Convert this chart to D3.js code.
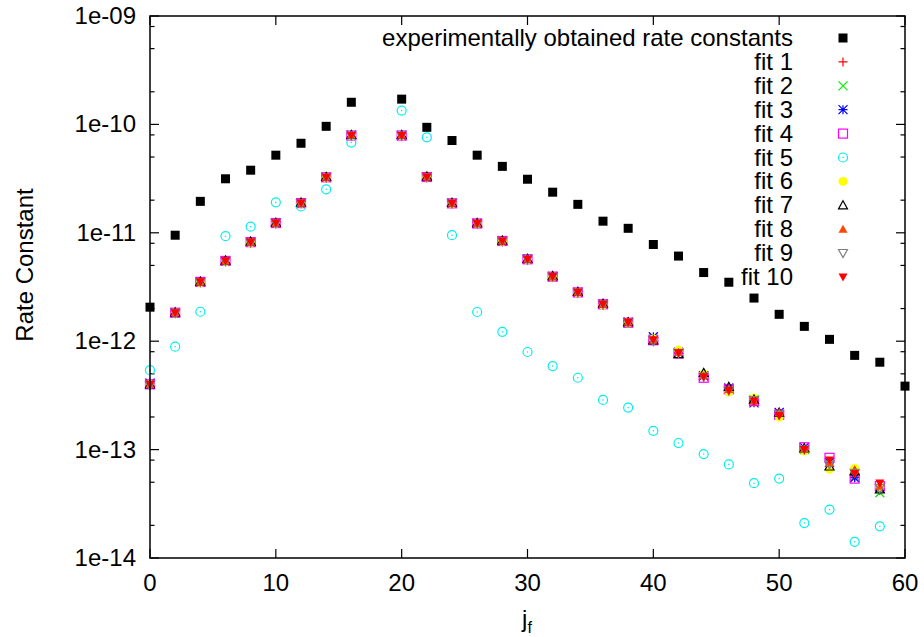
<!DOCTYPE html>
<html>
<head>
<meta charset="utf-8">
<script src="https://cdn.jsdelivr.net/npm/d3@7"></script>
<style>
  body { margin: 0; background: #fff; }
  svg text { font-family: "Liberation Sans", Arial, sans-serif; fill: #000; }
</style>
</head>
<body>
<div id="chart"></div>
<script>
// j_f values
const jExp = [0, 2, 4, 6, 8, 10, 12, 14, 16, 20, 22, 24, 26, 28, 30, 32, 34, 36, 38, 40, 42, 44, 46, 48, 50, 52, 54, 56, 58, 60];
const jFit = [0, 2, 4, 6, 8, 10, 12, 14, 16, 20, 22, 24, 26, 28, 30, 32, 34, 36, 38, 40, 42, 44, 46, 48, 50, 52, 54, 56, 58];

const expRates = [2.06e-12, 9.5e-12, 1.95e-11, 3.15e-11, 3.78e-11, 5.2e-11, 6.7e-11, 9.6e-11, 1.6e-10, 1.71e-10,
  9.4e-11, 7.1e-11, 5.2e-11, 4.1e-11, 3.12e-11, 2.37e-11, 1.83e-11, 1.28e-11, 1.1e-11, 7.8e-12,
  6.1e-12, 4.3e-12, 3.5e-12, 2.5e-12, 1.77e-12, 1.37e-12, 1.04e-12, 7.4e-13, 6.4e-13, 3.85e-13];

const fit1 = [4.0e-13, 1.83e-12, 3.5e-12, 5.5e-12, 8.2e-12, 1.23e-11, 1.88e-11, 3.25e-11, 7.9e-11, 7.9e-11,
  3.27e-11, 1.87e-11, 1.22e-11, 8.4e-12, 5.7e-12, 3.94e-12, 2.82e-12, 2.19e-12, 1.49e-12, 1.03e-12,
  7.7e-13, 4.7e-13, 3.5e-13, 2.8e-13, 2.1e-13, 1.02e-13, 7.4e-14, 5.6e-14, 4.2e-14];
const fit2 = [4.1e-13, 1.84e-12, 3.5e-12, 5.5e-12, 8.2e-12, 1.24e-11, 1.88e-11, 3.26e-11, 7.9e-11, 7.9e-11,
  3.27e-11, 1.87e-11, 1.22e-11, 8.4e-12, 5.7e-12, 3.95e-12, 2.83e-12, 2.2e-12, 1.5e-12, 1.05e-12,
  7.8e-13, 4.8e-13, 3.6e-13, 2.9e-13, 2.1e-13, 1.0e-13, 7.2e-14, 5.7e-14, 4.0e-14];
const fit3 = [4.1e-13, 1.83e-12, 3.55e-12, 5.5e-12, 8.2e-12, 1.23e-11, 1.89e-11, 3.25e-11, 7.95e-11, 7.9e-11,
  3.27e-11, 1.88e-11, 1.22e-11, 8.45e-12, 5.7e-12, 3.95e-12, 2.82e-12, 2.2e-12, 1.5e-12, 1.1e-12,
  7.9e-13, 4.8e-13, 3.7e-13, 2.7e-13, 2.2e-13, 1.05e-13, 7.6e-14, 5.5e-14, 4.4e-14];
const fit4 = [4.0e-13, 1.83e-12, 3.52e-12, 5.5e-12, 8.2e-12, 1.23e-11, 1.88e-11, 3.25e-11, 7.9e-11, 7.9e-11,
  3.27e-11, 1.87e-11, 1.22e-11, 8.4e-12, 5.7e-12, 3.94e-12, 2.82e-12, 2.19e-12, 1.48e-12, 1.02e-12,
  7.7e-13, 4.6e-13, 3.6e-13, 2.8e-13, 2.1e-13, 1.05e-13, 8.4e-14, 5.4e-14, 4.6e-14];
const fit5 = [5.4e-13, 8.9e-13, 1.87e-12, 9.3e-12, 1.14e-11, 1.91e-11, 1.75e-11, 2.52e-11, 6.8e-11, 1.34e-10,
  7.6e-11, 9.5e-12, 1.86e-12, 1.22e-12, 7.95e-13, 5.9e-13, 4.6e-13, 2.87e-13, 2.44e-13, 1.49e-13,
  1.15e-13, 9.1e-14, 7.3e-14, 4.9e-14, 5.4e-14, 2.1e-14, 2.8e-14, 1.41e-14, 1.96e-14];
const fit6 = [4.0e-13, 1.82e-12, 3.45e-12, 5.4e-12, 8.1e-12, 1.22e-11, 1.87e-11, 3.24e-11, 7.9e-11, 7.9e-11,
  3.26e-11, 1.86e-11, 1.21e-11, 8.3e-12, 5.65e-12, 3.9e-12, 2.8e-12, 2.15e-12, 1.47e-12, 1.05e-12,
  8.3e-13, 5.0e-13, 3.4e-13, 3.0e-13, 2.0e-13, 9.7e-14, 6.6e-14, 6.7e-14, 4.5e-14];
const fit7 = [4.0e-13, 1.85e-12, 3.55e-12, 5.55e-12, 8.3e-12, 1.24e-11, 1.9e-11, 3.28e-11, 8.0e-11, 8.0e-11,
  3.3e-11, 1.89e-11, 1.23e-11, 8.5e-12, 5.75e-12, 4.0e-12, 2.86e-12, 2.22e-12, 1.5e-12, 1.02e-12,
  7.6e-13, 5.1e-13, 3.8e-13, 2.9e-13, 2.2e-13, 1.03e-13, 7.0e-14, 6.3e-14, 4.3e-14];
const fit8 = [4.0e-13, 1.84e-12, 3.53e-12, 5.5e-12, 8.2e-12, 1.23e-11, 1.88e-11, 3.26e-11, 7.95e-11, 7.95e-11,
  3.28e-11, 1.88e-11, 1.22e-11, 8.4e-12, 5.7e-12, 3.95e-12, 2.83e-12, 2.2e-12, 1.5e-12, 1.03e-12,
  7.9e-13, 4.8e-13, 3.6e-13, 2.8e-13, 2.2e-13, 1.02e-13, 7.5e-14, 6.5e-14, 4.6e-14];
const fit9 = [3.9e-13, 1.82e-12, 3.5e-12, 5.45e-12, 8.1e-12, 1.22e-11, 1.87e-11, 3.23e-11, 7.85e-11, 7.85e-11,
  3.25e-11, 1.86e-11, 1.21e-11, 8.35e-12, 5.65e-12, 3.92e-12, 2.8e-12, 2.17e-12, 1.48e-12, 1.0e-12,
  7.8e-13, 4.7e-13, 3.5e-13, 2.85e-13, 2.1e-13, 1.0e-13, 7.3e-14, 6.1e-14, 4.4e-14];
const fit10 = [4.0e-13, 1.83e-12, 3.52e-12, 5.5e-12, 8.2e-12, 1.23e-11, 1.88e-11, 3.25e-11, 7.9e-11, 7.9e-11,
  3.27e-11, 1.87e-11, 1.22e-11, 8.4e-12, 5.7e-12, 3.94e-12, 2.82e-12, 2.19e-12, 1.49e-12, 1.03e-12,
  7.8e-13, 4.7e-13, 3.5e-13, 2.8e-13, 2.05e-13, 1.0e-13, 8.0e-14, 6.0e-14, 4.9e-14];

const seriesNames = ["experimentally obtained rate constants", "fit 1", "fit 2", "fit 3", "fit 4", "fit 5",
  "fit 6", "fit 7", "fit 8", "fit 9", "fit 10"];
const xTicks = [0, 10, 20, 30, 40, 50, 60];
const yTicks = [1e-14, 1e-13, 1e-12, 1e-11, 1e-10, 1e-9];
const yTickLabels = ["1e-14", "1e-13", "1e-12", "1e-11", "1e-10", "1e-09"];

const width = 924, height = 637;
const margin = { top: 16, right: 19, bottom: 79, left: 150 };
const fontSize = 24;

const svg = d3.select("#chart").append("svg")
  .attr("width", width).attr("height", height);

const x = d3.scaleLinear().domain([0, 60]).range([margin.left, width - margin.right]);
const y = d3.scaleLog().domain([1e-14, 1e-9]).range([height - margin.bottom, margin.top]);

// minor ticks (gnuplot puts them at 2, 5, 8 here)
const minorTicks = [];
yTicks.slice(0, -1).forEach(t => [2, 5, 8].forEach(m => minorTicks.push(t * m)));

const x0 = x.range()[0], x1 = x.range()[1];
const y0 = y.range()[0], y1 = y.range()[1];

const tickG = svg.append("g").attr("stroke", "#000").attr("stroke-width", 1.2);
xTicks.forEach(t => {
  tickG.append("line").attr("x1", x(t)).attr("x2", x(t)).attr("y1", y0).attr("y2", y0 - 9);
  tickG.append("line").attr("x1", x(t)).attr("x2", x(t)).attr("y1", y1).attr("y2", y1 + 9);
});
yTicks.forEach(t => {
  tickG.append("line").attr("x1", x0).attr("x2", x0 + 9).attr("y1", y(t)).attr("y2", y(t));
  tickG.append("line").attr("x1", x1).attr("x2", x1 - 9).attr("y1", y(t)).attr("y2", y(t));
});
minorTicks.forEach(t => {
  tickG.append("line").attr("x1", x0).attr("x2", x0 + 4.5).attr("y1", y(t)).attr("y2", y(t));
  tickG.append("line").attr("x1", x1).attr("x2", x1 - 4.5).attr("y1", y(t)).attr("y2", y(t));
});

// tick labels
svg.append("g").selectAll("text").data(xTicks).enter().append("text")
  .attr("x", d => x(d)).attr("y", y0 + 33)
  .attr("text-anchor", "middle").attr("font-size", fontSize)
  .text(d => d);
svg.append("g").selectAll("text").data(yTicks).enter().append("text")
  .attr("x", x0 - 14).attr("y", d => y(d) + 8)
  .attr("text-anchor", "end").attr("font-size", fontSize)
  .text((d, i) => yTickLabels[i]);

// axis titles
const xt = svg.append("text").attr("x", 527).attr("y", 627)
  .attr("text-anchor", "middle").attr("font-size", fontSize);
xt.append("tspan").text("j");
xt.append("tspan").attr("font-size", 16).attr("dy", 6).text("f");

svg.append("text")
  .attr("transform", `translate(33,265) rotate(-90)`)
  .attr("text-anchor", "middle").attr("font-size", fontSize)
  .text("Rate Constant");

// point shapes
const S = 4.5;
const shapes = {
  square: (g, c, fill) => g.append("rect").attr("x", -S).attr("y", -S).attr("width", 2 * S).attr("height", 2 * S)
    .attr("fill", fill ? c : "none").attr("stroke", c).attr("stroke-width", fill ? 0 : 1.2),
  plus: (g, c) => g.append("path").attr("d", `M${-S},0H${S}M0,${-S}V${S}`).attr("stroke", c).attr("stroke-width", 1.2).attr("fill", "none"),
  cross: (g, c) => g.append("path").attr("d", `M${-S},${-S}L${S},${S}M${-S},${S}L${S},${-S}`).attr("stroke", c).attr("stroke-width", 1.2).attr("fill", "none"),
  star: (g, c) => g.append("path").attr("d", `M${-S},0H${S}M0,${-S}V${S}M${-S},${-S}L${S},${S}M${-S},${S}L${S},${-S}`).attr("stroke", c).attr("stroke-width", 1.2).attr("fill", "none"),
  circleDot: (g, c) => {
    g.append("circle").attr("r", S).attr("fill", "none").attr("stroke", c).attr("stroke-width", 1.2);
    g.append("circle").attr("r", 0.8).attr("fill", c);
  },
  circle: (g, c) => g.append("circle").attr("r", S).attr("fill", c),
  triUp: (g, c, fill) => g.append("path").attr("d", `M0,${-S}L${S},${S * 0.8}L${-S},${S * 0.8}Z`)
    .attr("fill", fill ? c : "none").attr("stroke", c).attr("stroke-width", fill ? 0 : 1.2),
  triDown: (g, c, fill) => g.append("path").attr("d", `M0,${S}L${S},${-S * 0.8}L${-S},${-S * 0.8}Z`)
    .attr("fill", fill ? c : "none").attr("stroke", c).attr("stroke-width", fill ? 0 : 1.2)
};

const series = [
  { j: jExp, v: expRates, shape: "square", color: "#000000", fill: true },
  { j: jFit, v: fit1, shape: "plus", color: "#ff0000" },
  { j: jFit, v: fit2, shape: "cross", color: "#00ee00" },
  { j: jFit, v: fit3, shape: "star", color: "#0000ff" },
  { j: jFit, v: fit4, shape: "square", color: "#ff00ff", fill: false },
  { j: jFit, v: fit5, shape: "circleDot", color: "#00eeee" },
  { j: jFit, v: fit6, shape: "circle", color: "#ffff00" },
  { j: jFit, v: fit7, shape: "triUp", color: "#000000", fill: false },
  { j: jFit, v: fit8, shape: "triUp", color: "#ff4500", fill: true },
  { j: jFit, v: fit9, shape: "triDown", color: "#808080", fill: false },
  { j: jFit, v: fit10, shape: "triDown", color: "#ff0000", fill: true }
];

const legendRight = 793, legendMarkX = 843, legendY0 = 38, legendStep = 23.9;

series.forEach((s, si) => {
  const g = svg.append("g");
  s.j.forEach((jv, i) => {
    const p = g.append("g").attr("transform", `translate(${x(jv)},${y(s.v[i])})`);
    shapes[s.shape](p, s.color, s.fill);
  });
  const ly = legendY0 + si * legendStep;
  svg.append("text").attr("x", legendRight).attr("y", ly + 8)
    .attr("text-anchor", "end").attr("font-size", fontSize).text(seriesNames[si]);
  const lp = svg.append("g").attr("transform", `translate(${legendMarkX},${ly})`);
  shapes[s.shape](lp, s.color, s.fill);
});

// frame
svg.append("rect")
  .attr("x", x0).attr("y", y1).attr("width", x1 - x0).attr("height", y0 - y1)
  .attr("fill", "none").attr("stroke", "#000").attr("stroke-width", 1.5);
</script>
</body>
</html>
